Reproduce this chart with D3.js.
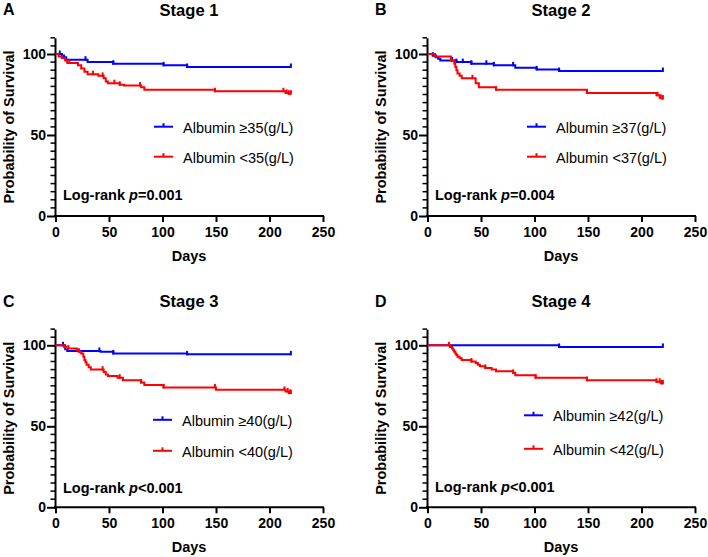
<!DOCTYPE html>
<html>
<head>
<meta charset="utf-8">
<script src="https://cdn.jsdelivr.net/npm/d3@7"></script>
<style>
  body { margin: 0; background: #fff; }
  text { font-family: "Liberation Sans", Arial, sans-serif; }
</style>
</head>
<body>
<script>
'use strict';

// chart data
var stageTitles = ['Stage 1', 'Stage 2', 'Stage 3', 'Stage 4'];
var panelLetters = ['A', 'B', 'C', 'D'];
var cutoffs = [35, 37, 40, 42];
var pValues = ['=0.001', '=0.004', '<0.001', '<0.001'];
var xTicks = [0, 50, 100, 150, 200, 250];
var yTicks = [0, 50, 100];
var endDay = 220;

// [day, survival %] steps
var stage1High = [[0,100],[6,99],[8,98],[10,96.5],[30,95],[54,94],[101,93],[123,92]];
var stage1HighCens = [4, 28, 54, 101, 123, 220];
var stage1Low = [[0,100],[3,98.5],[6,97.5],[9,96],[11,94.5],[21,93],[24,91],[27,89],[30,87.5],[40,86.5],[45,85],[47,83],[49,82],[60,81],[64,80.5],[80,79.5],[83,78],[149,77],[215,76],[218,75.5]];
var stage1LowCens = [13, 35, 44, 55, 60, 79, 149, 213, 216, 218, 220];

var stage2High = [[0,100],[5,99],[8,98],[10,97],[12,96],[27,95],[41,94],[62,93],[82,91.5],[102,90.5],[123,89.5]];
var stage2HighCens = [5, 23, 27, 33, 41, 55, 62, 80, 102, 123, 220];
var stage2Low = [[0,100],[7,98.5],[22,96],[25,94],[26,92],[27,90],[28,88],[30,86.5],[32,85],[45,82],[48,79.5],[64,78],[149,76],[214,74.5],[217,73],[219,72.5]];
var stage2LowCens = [7, 42, 64, 149, 215, 218, 220];

var stage3High = [[0,100],[9,97.5],[11,96.5],[42,96],[54,95],[123,94.4]];
var stage3HighCens = [7, 41, 54, 123, 220];
var stage3Low = [[0,100],[8,99],[10,98],[20,97],[22,96],[24,95],[26,93],[27,91],[28,89.5],[29,88],[31,86.5],[33,85],[45,83.5],[47,82],[49,81],[58,80],[63,78.5],[80,77],[83,75.5],[101,74],[150,72.5],[215,71.5],[218,70.5]];
var stage3LowCens = [12, 22, 44, 60, 80, 101, 149, 214, 217, 219, 220];

var stage4High = [[0,100],[123,99]];
var stage4HighCens = [123, 220];
var stage4Low = [[0,100],[21,99],[23,98],[24,97],[25,96],[26,95],[27,94],[28,93],[30,92],[32,91],[41,90],[45,89],[47,88],[49,87],[54,86],[60,85],[64,84],[80,83],[82,81.5],[101,80],[149,78.5],[214,77.5],[218,76.5]];
var stage4LowCens = [20, 41, 54, 80, 101, 149, 214, 217, 219, 220];

var highSeries = [stage1High, stage2High, stage3High, stage4High];
var highCens = [stage1HighCens, stage2HighCens, stage3HighCens, stage4HighCens];
var lowSeries = [stage1Low, stage2Low, stage3Low, stage4Low];
var lowCens = [stage1LowCens, stage2LowCens, stage3LowCens, stage4LowCens];

// layout
var width = 708;
var height = 557;
var axisX = [55, 427, 55, 427];
var axisY = [216, 216, 507.3, 507.3];
var legendDx = [99, 100, 98, 97];
var legendDy = [-89.3, -89.3, -87.5, -92];
var legendGap = [30, 30, 31, 33.5];
var pDy = [-16, -16, -14.3, -15];
var blue = '#0000ff';
var red = '#ff0000';

var svg = d3.select('body').append('svg')
    .attr('width', width)
    .attr('height', height);

svg.append('rect').attr('width', width).attr('height', height).attr('fill', '#fff');

function survivalAt (steps, t) {
    var s = steps[0][1];
    steps.forEach(function (p) { if (p[0] <= t) { s = p[1]; } });
    return s;
}

function drawPanel (i) {
    var ox = axisX[i];
    var oy = axisY[i];
    var x = d3.scaleLinear().domain([0, 250]).range([ox + 0.5, ox + 268]);
    var y = d3.scaleLinear().domain([0, 110]).range([oy, oy - 178.2]);
    var g = svg.append('g');

    // y axis, minor ticks every 5
    var yAxis = d3.axisLeft(y).tickValues(yTicks).tickSize(8).tickPadding(1).tickSizeOuter(0);
    var ya = g.append('g').attr('transform', 'translate(' + ox + ',0)').call(yAxis);
    ya.select('.domain').attr('stroke', '#000').attr('stroke-width', 2);
    ya.selectAll('.tick line').attr('stroke-width', 2);
    ya.selectAll('text').attr('font-size', 14).attr('font-weight', 'bold')
        .attr('font-family', '"Liberation Sans", Arial, sans-serif').attr('fill', '#000');
    g.selectAll('.minor').data(d3.range(5, 111, 5).filter(function (v) { return v % 50 !== 0; }))
        .enter().append('line')
        .attr('x1', ox - 4.5).attr('x2', ox)
        .attr('y1', function (v) { return y(v); })
        .attr('y2', function (v) { return y(v); })
        .attr('stroke', '#000').attr('stroke-width', 1.5);

    // x axis
    var xAxis = d3.axisBottom(x).tickValues(xTicks).tickSize(6).tickPadding(5).tickSizeOuter(0);
    var xa = g.append('g').attr('transform', 'translate(0,' + oy + ')').call(xAxis);
    xa.select('.domain').remove();
    xa.append('line').attr('x1', ox - 1).attr('x2', x(250) + 1).attr('stroke', '#000').attr('stroke-width', 2);
    xa.selectAll('.tick line').attr('stroke-width', 2);
    xa.selectAll('text').attr('font-size', 14).attr('font-weight', 'bold')
        .attr('font-family', '"Liberation Sans", Arial, sans-serif').attr('fill', '#000');

    // curves: blue first, red on top
    var line = d3.line()
        .x(function (d) { return x(d[0]); })
        .y(function (d) { return y(d[1]); })
        .curve(d3.curveStepAfter);

    [[highSeries[i], highCens[i], blue], [lowSeries[i], lowCens[i], red]].forEach(function (s) {
        var pts = s[0].concat([[endDay, s[0][s[0].length - 1][1]]]);
        g.append('path').attr('d', line(pts))
            .attr('fill', 'none').attr('stroke', s[2]).attr('stroke-width', 2);
        g.selectAll(null).data(s[1]).enter().append('line')
            .attr('x1', function (t) { return x(t); })
            .attr('x2', function (t) { return x(t); })
            .attr('y1', function (t) { return y(survivalAt(s[0], t)) - 3.5; })
            .attr('y2', function (t) { return y(survivalAt(s[0], t)) + 1; })
            .attr('stroke', s[2]).attr('stroke-width', 2);
    });

    // legend
    var lx = ox + legendDx[i];
    var ly = oy + legendDy[i];
    [['Albumin \u2265' + cutoffs[i] + '(g/L)', blue, 0], ['Albumin <' + cutoffs[i] + '(g/L)', red, legendGap[i]]].forEach(function (L) {
        var yy = ly + L[2];
        g.append('line').attr('x1', lx).attr('x2', lx + 19).attr('y1', yy).attr('y2', yy)
            .attr('stroke', L[1]).attr('stroke-width', 2);
        g.append('line').attr('x1', lx + 9.5).attr('x2', lx + 9.5).attr('y1', yy - 3.5).attr('y2', yy)
            .attr('stroke', L[1]).attr('stroke-width', 2);
        g.append('text').attr('x', lx + 29).attr('y', yy + 6)
            .attr('font-size', 14.5).attr('fill', '#000').text(L[0]);
    });

    // log-rank
    var t = g.append('text').attr('x', ox + 8).attr('y', oy + pDy[i])
        .attr('font-size', 14.5).attr('font-weight', 'bold').attr('fill', '#000');
    t.append('tspan').text('Log-rank ');
    t.append('tspan').attr('font-style', 'italic').text('p');
    t.append('tspan').text(pValues[i]);

    // titles
    var cx = (ox + x(250)) / 2;
    var top = oy - 200;
    g.append('text').attr('x', cx).attr('y', top).attr('text-anchor', 'middle')
        .attr('font-size', 16.6).attr('font-weight', 'bold').text(stageTitles[i]);
    g.append('text').attr('x', ox - 52).attr('y', top - 0.6)
        .attr('font-size', 16).attr('font-weight', 'bold').text(panelLetters[i]);
    g.append('text').attr('x', cx).attr('y', oy + 44.7).attr('text-anchor', 'middle')
        .attr('font-size', 14.5).attr('font-weight', 'bold').text('Days');
    g.append('text')
        .attr('transform', 'translate(' + (ox - 41.5) + ',' + (oy - 89) + ') rotate(-90)')
        .attr('text-anchor', 'middle')
        .attr('font-size', 14.5).attr('font-weight', 'bold').text('Probability of Survival');
}

for (var i = 0; i < 4; i++) {
    drawPanel(i);
}
</script>
</body>
</html>
